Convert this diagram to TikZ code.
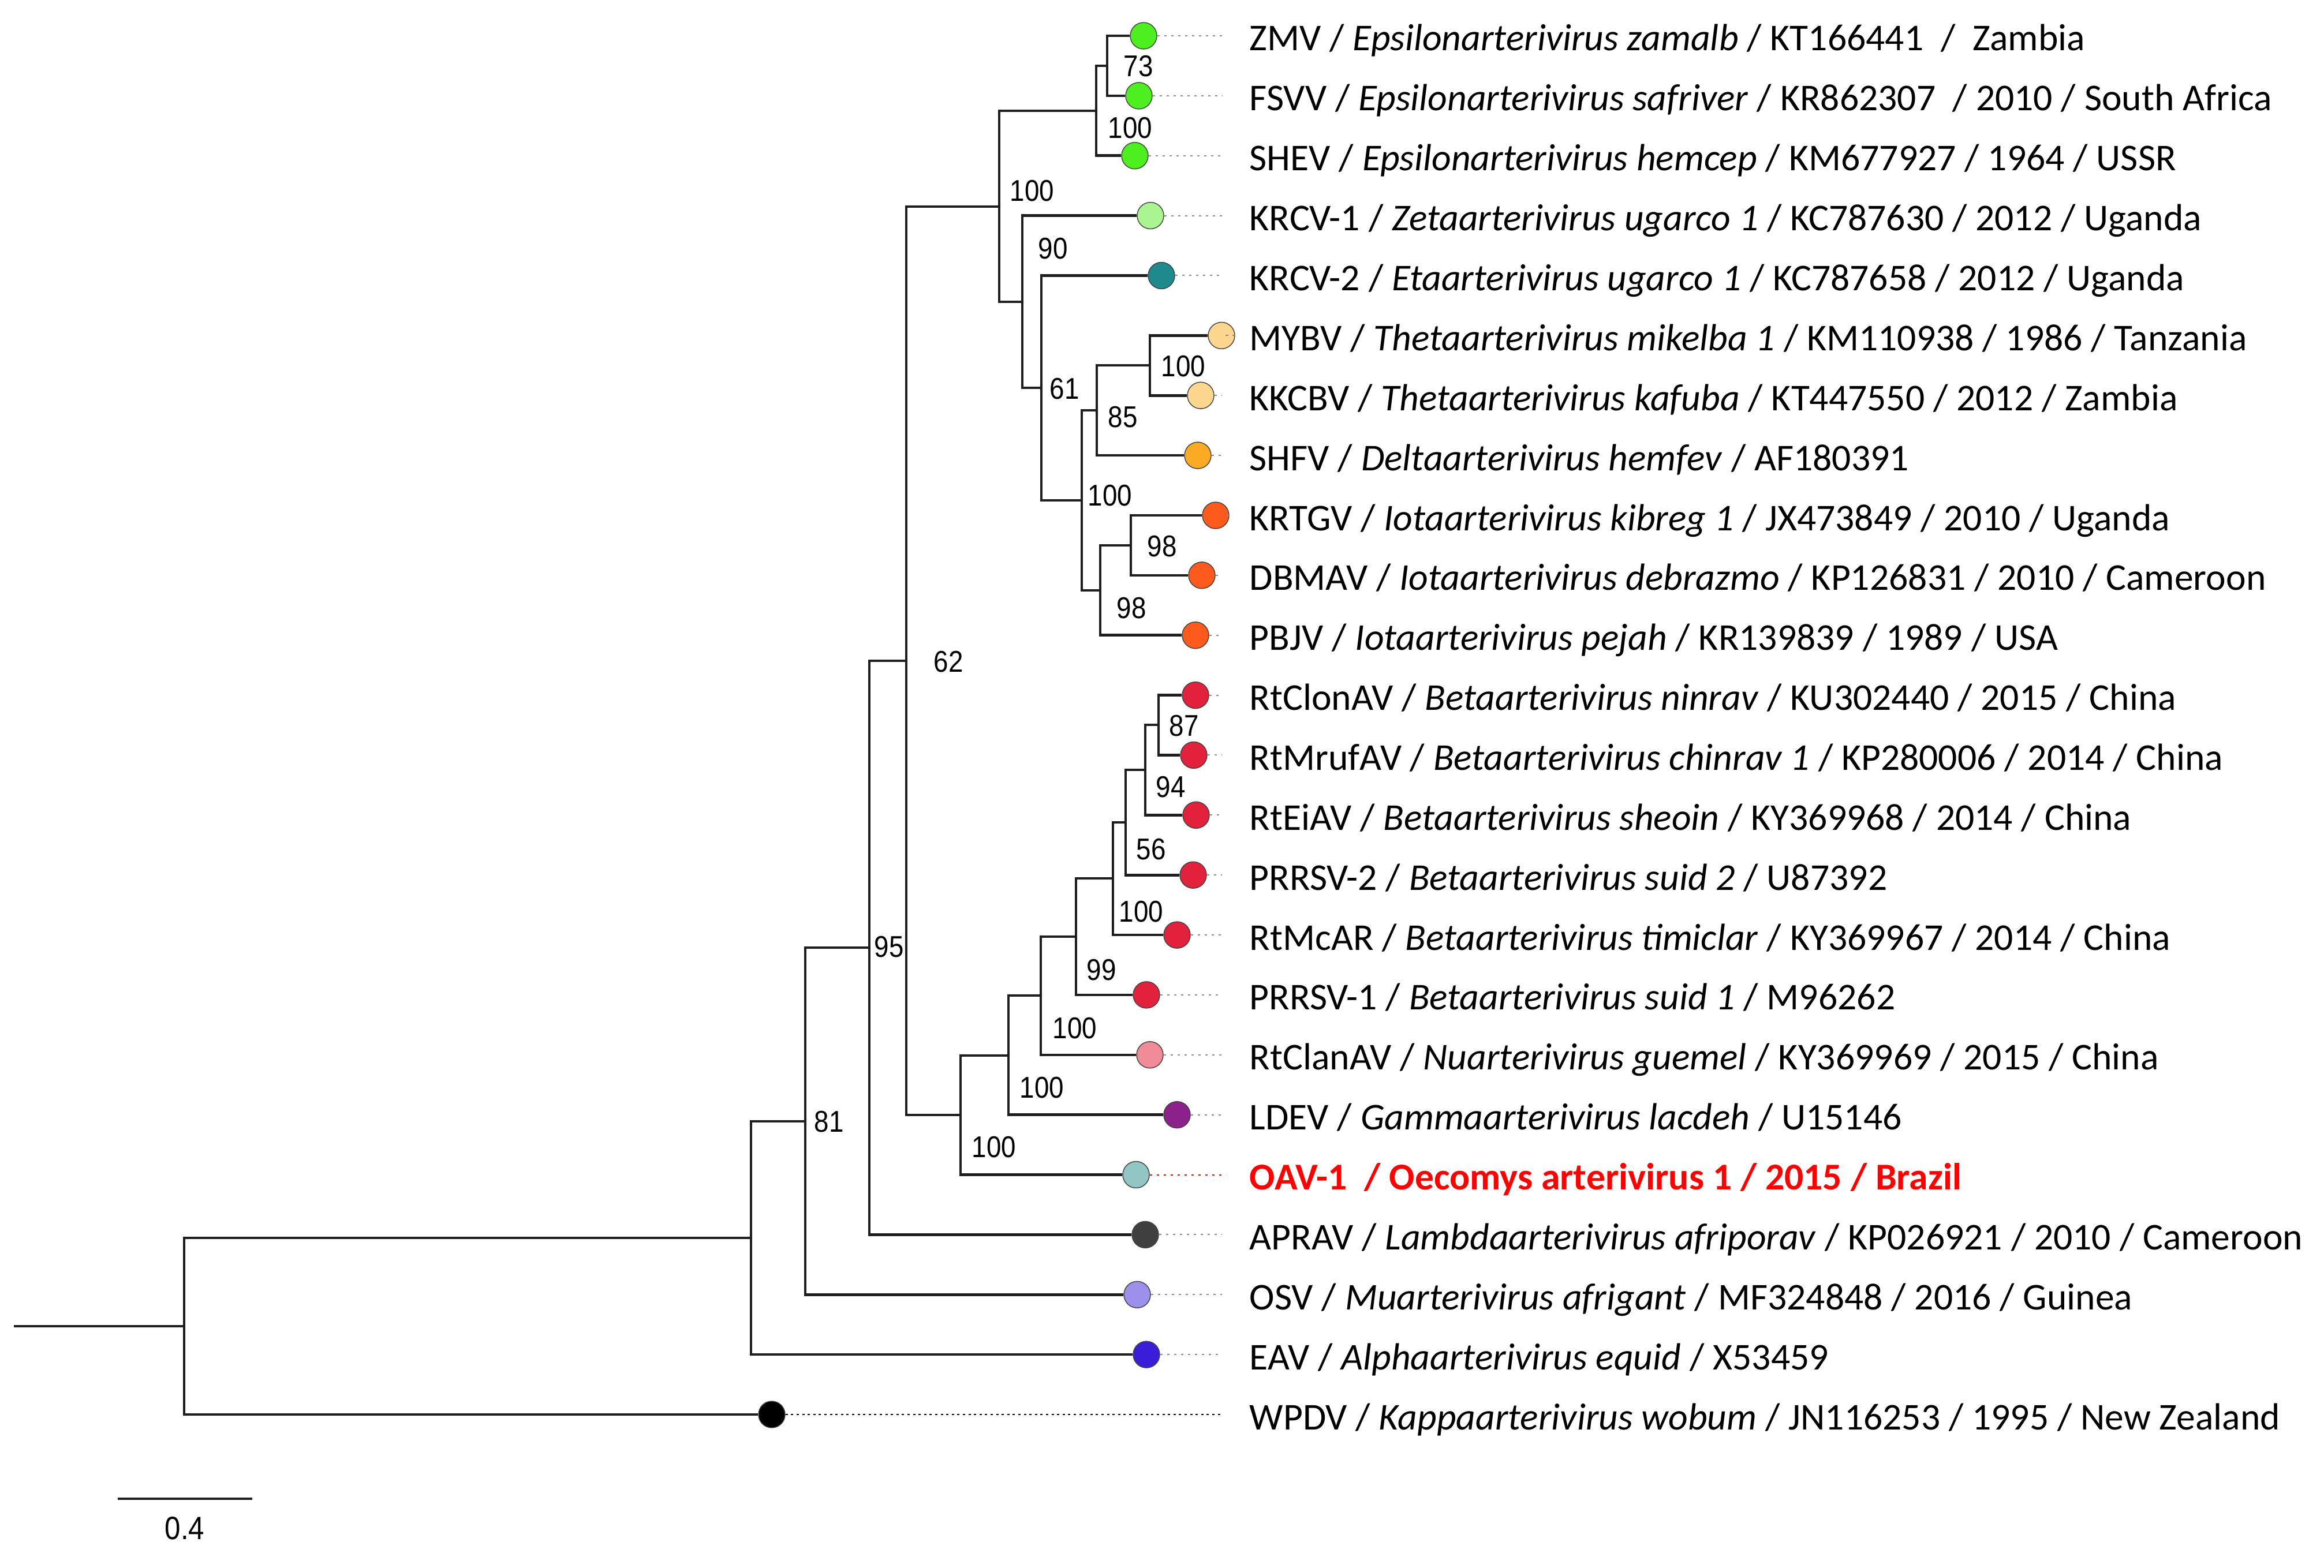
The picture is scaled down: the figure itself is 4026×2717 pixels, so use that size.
\documentclass[tikz,border=0pt]{standalone}
\usepackage{fontspec}
\newfontfamily\labfam{Carlito}
\newfontfamily\bsfam[FakeStretch=0.88]{Liberation Sans}
\definecolor{linec}{RGB}{30,30,30}
\definecolor{cEps}{RGB}{77,240,30}
\definecolor{cZeta}{RGB}{170,245,145}
\definecolor{cEta}{RGB}{30,138,140}
\definecolor{cTheta}{RGB}{253,215,143}
\definecolor{cDelta}{RGB}{250,170,35}
\definecolor{cIota}{RGB}{255,90,30}
\definecolor{cBeta}{RGB}{226,33,61}
\definecolor{cNu}{RGB}{240,140,152}
\definecolor{cGamma}{RGB}{140,33,140}
\definecolor{cOAV}{RGB}{145,198,196}
\definecolor{cLambda}{RGB}{64,64,64}
\definecolor{cMu}{RGB}{155,145,235}
\definecolor{cAlpha}{RGB}{58,30,215}
\definecolor{cRed}{RGB}{255,0,0}
\begin{document}
\begin{tikzpicture}[x=0.25pt,y=-0.25pt,
  br/.style={draw=linec,line width=1.15pt},
  tip/.style={circle,draw=black!75,line width=0.35pt,minimum size=11.5pt,inner sep=0pt},
  dotl/.style={draw=gray!90,line width=0.5pt,dash pattern=on 1.1pt off 1.9pt},
  lab/.style={anchor=base west,inner sep=0pt,font=\labfam\fontsize{16.4pt}{19pt}\selectfont},
  bs/.style={inner sep=0pt,font=\bsfam\fontsize{13pt}{15pt}\selectfont}]
\useasboundingbox (0,0) rectangle (4026,2717);
% tips
\node[tip,fill=cEps]    (t0)  at (1981,62)    {};
\node[tip,fill=cEps]    (t1)  at (1973,165.9) {};
\node[tip,fill=cEps]    (t2)  at (1966,269.7) {};
\node[tip,fill=cZeta]   (t3)  at (1993,373.6) {};
\node[tip,fill=cEta]    (t4)  at (2012,477.5) {};
\node[tip,fill=cTheta]  (t5)  at (2116,581.4) {};
\node[tip,fill=cTheta]  (t6)  at (2080,685.2) {};
\node[tip,fill=cDelta]  (t7)  at (2075,789.1) {};
\node[tip,fill=cIota]   (t8)  at (2106,893.0) {};
\node[tip,fill=cIota]   (t9)  at (2082,996.8) {};
\node[tip,fill=cIota]   (t10) at (2071,1100.7) {};
\node[tip,fill=cBeta]   (t11) at (2071,1204.6) {};
\node[tip,fill=cBeta]   (t12) at (2068,1308.4) {};
\node[tip,fill=cBeta]   (t13) at (2072,1412.3) {};
\node[tip,fill=cBeta]   (t14) at (2067,1516.2) {};
\node[tip,fill=cBeta]   (t15) at (2039,1620.1) {};
\node[tip,fill=cBeta]   (t16) at (1986,1723.9) {};
\node[tip,fill=cNu]     (t17) at (1992,1827.8) {};
\node[tip,fill=cGamma]  (t18) at (2039,1931.7) {};
\node[tip,fill=cOAV]    (t19) at (1968,2035.5) {};
\node[tip,fill=cLambda] (t20) at (1984,2139.4) {};
\node[tip,fill=cMu]     (t21) at (1970,2243.3) {};
\node[tip,fill=cAlpha]  (t22) at (1986,2347.1) {};
\node[tip,fill=black]   (t23) at (1337,2451.0) {};
% internal nodes
\coordinate (nZF)   at (1918,114);
\coordinate (nEps)  at (1899,192);
\coordinate (nTh)   at (1992,633);
\coordinate (n85)   at (1900,711);
\coordinate (nKD)   at (1959,945);
\coordinate (nIo)   at (1906,1023);
\coordinate (nTD)   at (1874,867);
\coordinate (nK2)   at (1804,672);
\coordinate (nK1)   at (1771,523);
\coordinate (nTop)  at (1731,358);
\coordinate (n87)   at (2007,1256);
\coordinate (n94)   at (1984,1334);
\coordinate (n56)   at (1950,1425);
\coordinate (nB100) at (1928,1522);
\coordinate (n99)   at (1864,1623);
\coordinate (nBe)   at (1803,1725);
\coordinate (nLD)   at (1747,1829);
\coordinate (nLO)   at (1664,1932);
\coordinate (n62)   at (1570,1145);
\coordinate (n95)   at (1506,1642);
\coordinate (n81)   at (1395,1943);
\coordinate (nE)    at (1301,2145);
\coordinate (root)  at (319,2298);
\coordinate (stub)  at (24,2298);
\coordinate (dotx)  at (2117,0);
% branches
\draw[br] (nZF) |- (t0);  \draw[br] (nZF) |- (t1);
\draw[br] (nEps) |- (nZF); \draw[br] (nEps) |- (t2);
\draw[br] (nTh) |- (t5);  \draw[br] (nTh) |- (t6);
\draw[br] (n85) |- (nTh); \draw[br] (n85) |- (t7);
\draw[br] (nKD) |- (t8);  \draw[br] (nKD) |- (t9);
\draw[br] (nIo) |- (nKD); \draw[br] (nIo) |- (t10);
\draw[br] (nTD) |- (n85); \draw[br] (nTD) |- (nIo);
\draw[br] (nK2) |- (t4);  \draw[br] (nK2) |- (nTD);
\draw[br] (nK1) |- (t3);  \draw[br] (nK1) |- (nK2);
\draw[br] (nTop) |- (nEps); \draw[br] (nTop) |- (nK1);
\draw[br] (n87) |- (t11); \draw[br] (n87) |- (t12);
\draw[br] (n94) |- (n87); \draw[br] (n94) |- (t13);
\draw[br] (n56) |- (n94); \draw[br] (n56) |- (t14);
\draw[br] (nB100) |- (n56); \draw[br] (nB100) |- (t15);
\draw[br] (n99) |- (nB100); \draw[br] (n99) |- (t16);
\draw[br] (nBe) |- (n99); \draw[br] (nBe) |- (t17);
\draw[br] (nLD) |- (nBe); \draw[br] (nLD) |- (t18);
\draw[br] (nLO) |- (nLD); \draw[br] (nLO) |- (t19);
\draw[br] (n62) |- (nTop); \draw[br] (n62) |- (nLO);
\draw[br] (n95) |- (n62); \draw[br] (n95) |- (t20);
\draw[br] (n81) |- (n95); \draw[br] (n81) |- (t21);
\draw[br] (nE) |- (n81); \draw[br] (nE) |- (t22);
\draw[br] (root) |- (nE); \draw[br] (root) |- (t23);
\draw[br] (stub) -- (root);
% dotted leaders
\foreach \t in {t0,t1,t2,t3,t4,t5,t6,t7,t8,t9,t10,t11,t12,t13,t14,t15,t16,t17,t18,t20,t21,t22}
  \draw[dotl] (\t.east) -- (\t.east -| dotx);
\draw[dotl,draw=cRed] (t19.east) -- (t19.east -| dotx);
\draw[dotl,draw=black,dash pattern=on 1pt off 1.4pt] (t23.east) -- (t23.east -| dotx);
% labels
\node[lab] (l0)  at (2164,88)     {ZMV / \textit{Epsilonarterivirus zamalb} / KT166441\ \ /\ \ Zambia};
\node[lab] (l1)  at (2164,191.9)  {FSVV / \textit{Epsilonarterivirus safriver} / KR862307\ \ / 2010 / South Africa};
\node[lab] (l2)  at (2164,295.7)  {SHEV / \textit{Epsilonarterivirus hemcep} / KM677927 / 1964 / USSR};
\node[lab] (l3)  at (2164,399.6)  {KRCV-1 / \textit{Zetaarterivirus ugarco 1} / KC787630 / 2012 / Uganda};
\node[lab] (l4)  at (2164,503.5)  {KRCV-2 / \textit{Etaarterivirus ugarco 1} / KC787658 / 2012 / Uganda};
\node[lab] (l5)  at (2164,607.4)  {MYBV / \textit{Thetaarterivirus mikelba 1} / KM110938 / 1986 / Tanzania};
\node[lab] (l6)  at (2164,711.2)  {KKCBV / \textit{Thetaarterivirus kafuba} / KT447550 / 2012 / Zambia};
\node[lab] (l7)  at (2164,815.1)  {SHFV / \textit{Deltaarterivirus hemfev} / AF180391};
\node[lab] (l8)  at (2164,919.0)  {KRTGV / \textit{Iotaarterivirus kibreg 1} / JX473849 / 2010 / Uganda};
\node[lab] (l9)  at (2164,1022.8) {DBMAV / \textit{Iotaarterivirus debrazmo} / KP126831 / 2010 / Cameroon};
\node[lab] (l10) at (2164,1126.7) {PBJV / \textit{Iotaarterivirus pejah} / KR139839 / 1989 / USA};
\node[lab] (l11) at (2164,1230.6) {RtClonAV / \textit{Betaarterivirus ninrav} / KU302440 / 2015 / China};
\node[lab] (l12) at (2164,1334.4) {RtMrufAV / \textit{Betaarterivirus chinrav 1} / KP280006 / 2014 / China};
\node[lab] (l13) at (2164,1438.3) {RtEiAV / \textit{Betaarterivirus sheoin} / KY369968 / 2014 / China};
\node[lab] (l14) at (2164,1542.2) {PRRSV-2 / \textit{Betaarterivirus suid 2} / U87392};
\node[lab] (l15) at (2164,1646.1) {RtMcAR / \textit{Betaarterivirus timiclar} / KY369967 / 2014 / China};
\node[lab] (l16) at (2164,1749.9) {PRRSV-1 / \textit{Betaarterivirus suid 1} / M96262};
\node[lab] (l17) at (2164,1853.8) {RtClanAV / \textit{Nuarterivirus guemel} / KY369969 / 2015 / China};
\node[lab] (l18) at (2164,1957.7) {LDEV / \textit{Gammaarterivirus lacdeh} / U15146};
\node[lab,text=cRed] (l19) at (2164,2061.5) {\bfseries OAV-1\ \ / Oecomys arterivirus 1 / 2015 / Brazil};
\node[lab] (l20) at (2164,2165.4) {APRAV / \textit{Lambdaarterivirus afriporav} / KP026921 / 2010 / Cameroon};
\node[lab] (l21) at (2164,2269.3) {OSV / \textit{Muarterivirus afrigant} / MF324848 / 2016 / Guinea};
\node[lab] (l22) at (2164,2373.1) {EAV / \textit{Alphaarterivirus equid} / X53459};
\node[lab] (l23) at (2164,2477.0) {WPDV / \textit{Kappaarterivirus wobum} / JN116253 / 1995 / New Zealand};
% bootstrap values
\node[bs] (b73)   at (1972,115)  {73};
\node[bs] (bEps)  at (1958,222)  {100};
\node[bs] (bTop)  at (1788,331)  {100};
\node[bs] (b90)   at (1824,431)  {90};
\node[bs] (b61)   at (1844,674)  {61};
\node[bs] (bTh)   at (2050,635)  {100};
\node[bs] (b85)   at (1945,723)  {85};
\node[bs] (bTD)   at (1923,859)  {100};
\node[bs] (b98a)  at (2013,947)  {98};
\node[bs] (b98b)  at (1960,1054) {98};
\node[bs] (b62)   at (1643,1147) {62};
\node[bs] (b87)   at (2051,1258) {87};
\node[bs] (b94)   at (2028,1364) {94};
\node[bs] (b56)   at (1994,1472) {56};
\node[bs] (bB100) at (1977,1580) {100};
\node[bs] (b99)   at (1908,1681) {99};
\node[bs] (bBe)   at (1862,1782) {100};
\node[bs] (bLD)   at (1805,1885) {100};
\node[bs] (bLO)   at (1722,1988) {100};
\node[bs] (b95)   at (1540,1641) {95};
\node[bs] (b81)   at (1436,1944) {81};
% scale bar
\coordinate (sb1) at (204,2597);
\coordinate (sb2) at (437,2597);
\draw[br] (sb1) -- (sb2);
\node[bs,font=\bsfam\fontsize{14pt}{16pt}\selectfont] (sbl) at (320,2648) {0.4};
\end{tikzpicture}
\end{document}
